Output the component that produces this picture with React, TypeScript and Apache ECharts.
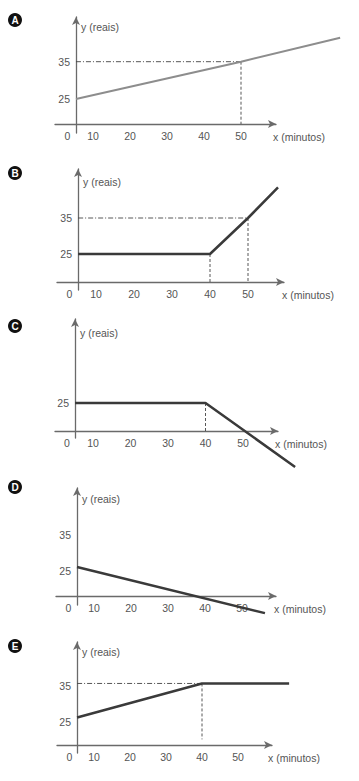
import React, { useEffect, useRef } from "react";
import * as echarts from "echarts";

// ---- data ----
const X_TICKS = [0, 10, 20, 30, 40, 50];
const Y_TICKS_TWO = [25, 35];
const Y_TICKS_ONE = [25];
const LETTERS = ["A", "B", "C", "D", "E"];
const X_NAME = "x (minutos)";
const Y_NAME = "y (reais)";

const LINE_A = [[5.4, 25], [50, 35], [76.8, 41.4]];
const LINE_B = [[5.3, 25], [40, 25], [50, 35], [57.9, 43.5]];
const LINE_C = [[5.2, 25], [40, 25], [63.9, 7.7]];
const LINE_D = [[5.4, 26.1], [56.2, 13.3]];
const LINE_E = [[5.3, 25], [40, 35], [64.2, 35]];

const GUIDE_H_A = [[5.4, 35], [50, 35]];
const GUIDE_V_A = [[50, 35], [50, 18.3]];
const GUIDE_H_B = [[5.3, 35], [50, 35]];
const GUIDE_V_B1 = [[40, 25], [40, 17.2]];
const GUIDE_V_B2 = [[50, 35], [50, 17.2]];
const GUIDE_V_C = [[40, 25], [40, 17.4]];
const GUIDE_H_E = [[5.3, 35], [40, 35]];
const GUIDE_V_E = [[40, 35], [40, 18.6]];

// ---- layout (pixels) ----
const PANELS = [
  { x0: 56, xu: 3.7, y25: 99, yu: 3.73, yAxisX: 76, xAxisY: 124, left: 55, tipR: 280, tipT: 13, bottom: 133, badge: [15, 20], yNameGap: -10, xNameGap: -3, yTicks: Y_TICKS_TWO, line: LINE_A, lineColor: "#8d8d8d", lineWidth: 2, hGuides: [GUIDE_H_A], vGuides: [GUIDE_V_A] },
  { x0: 58, xu: 3.8, y25: 254, yu: 3.6, yAxisX: 78, xAxisY: 282, left: 57, tipR: 288, tipT: 165, bottom: 290, badge: [15, 173], yNameGap: -13, xNameGap: -2, yTicks: Y_TICKS_TWO, line: LINE_B, lineColor: "#3a3a3a", lineWidth: 2.5, hGuides: [GUIDE_H_B], vGuides: [GUIDE_V_B1, GUIDE_V_B2] },
  { x0: 55.5, xu: 3.75, y25: 403, yu: 3.7, yAxisX: 75, xAxisY: 431, left: 55, tipR: 282, tipT: 315, bottom: 438, badge: [15, 326], yNameGap: -14, xNameGap: -3, yTicks: Y_TICKS_ONE, line: LINE_C, lineColor: "#3a3a3a", lineWidth: 2.5, hGuides: [], vGuides: [GUIDE_V_C] },
  { x0: 57, xu: 3.7, y25: 571, yu: 3.6, yAxisX: 77, xAxisY: 596, left: 56, tipR: 280, tipT: 484, bottom: 605, badge: [15, 487], yNameGap: -11, xNameGap: -2, yTicks: Y_TICKS_TWO, line: LINE_D, lineColor: "#3a3a3a", lineWidth: 2.5, hGuides: [], vGuides: [] },
  { x0: 58, xu: 3.6, y25: 722, yu: 3.6, yAxisX: 77, xAxisY: 745, left: 57, tipR: 276, tipT: 638, bottom: 753, badge: [15, 646], yNameGap: -10, xNameGap: -4, yTicks: Y_TICKS_TWO, line: LINE_E, lineColor: "#3a3a3a", lineWidth: 2.5, hGuides: [GUIDE_H_E], vGuides: [GUIDE_V_E] },
];

const FONT = "Liberation Sans";
const TEXT_COLOR = "#555";
const AXIS_COLOR = "#6a6a6a";
const ARROW_HALF = 4;
const DATA_RIGHT = 354;
const DATA_EXTRA_BOTTOM = 36;

function buildOption() {
  const grid: any[] = [];
  const xAxis: any[] = [];
  const yAxis: any[] = [];
  const series: any[] = [];
  const graphic: any[] = [];
  const n = PANELS.length;

  // visible axes grids
  PANELS.forEach((p, i) => {
    const rightEdge = p.tipR - ARROW_HALF;
    const topEdge = p.tipT + ARROW_HALF;
    grid.push({ left: p.left, top: topEdge, width: rightEdge - p.left, height: p.bottom - topEdge });
    xAxis.push({
      type: "value",
      gridIndex: i,
      min: (p.left - p.x0) / p.xu,
      max: (rightEdge - p.x0) / p.xu,
      offset: -(p.bottom - p.xAxisY),
      name: X_NAME,
      nameLocation: "end",
      nameGap: p.xNameGap,
      nameTextStyle: { color: TEXT_COLOR, fontFamily: FONT, fontSize: 10.5, align: "left", verticalAlign: "top", padding: [7, 0, 0, 0] },
      axisLine: { show: true, onZero: false, symbol: ["none", "arrow"], symbolSize: [6, 8], lineStyle: { color: AXIS_COLOR, width: 1.3 } },
      axisTick: { show: false },
      splitLine: { show: false },
      axisLabel: {
        customValues: X_TICKS,
        margin: 6,
        color: TEXT_COLOR,
        fontFamily: FONT,
        fontSize: 10.5,
        formatter: (v: number) => (v === 0 ? "{z|0}" : String(v)),
        rich: { z: { padding: [0, 0, 0, 23], color: TEXT_COLOR, fontFamily: FONT, fontSize: 10.5 } },
      },
    });
    yAxis.push({
      type: "value",
      gridIndex: i,
      min: 25 - (p.bottom - p.y25) / p.yu,
      max: 25 + (p.y25 - topEdge) / p.yu,
      offset: -(p.yAxisX - p.left),
      name: Y_NAME,
      nameLocation: "end",
      nameGap: p.yNameGap,
      nameTextStyle: { color: TEXT_COLOR, fontFamily: FONT, fontSize: 10.5, align: "left", verticalAlign: "middle", padding: [0, 0, 0, 5] },
      axisLine: { show: true, onZero: false, symbol: ["none", "arrow"], symbolSize: [6, 8], lineStyle: { color: AXIS_COLOR, width: 1.3 } },
      axisTick: { show: false },
      splitLine: { show: false },
      axisLabel: { customValues: p.yTicks, margin: 6, color: TEXT_COLOR, fontFamily: FONT, fontSize: 10.5 },
    });

    graphic.push({
      type: "group",
      children: [
        { type: "circle", shape: { cx: p.badge[0], cy: p.badge[1], r: 7 }, style: { fill: "#111" } },
        { type: "text", x: p.badge[0], y: p.badge[1] + 0.5, style: { text: LETTERS[i], fill: "#fff", font: `bold 10px ${FONT}`, align: "center", verticalAlign: "middle" } },
      ],
    });
  });

  // wider data grids with the same scale (hidden axes), so lines may run past the arrows
  PANELS.forEach((p, i) => {
    const gi = n + i;
    const dataBottom = p.bottom + DATA_EXTRA_BOTTOM;
    grid.push({ left: p.left, top: p.tipT, width: DATA_RIGHT - p.left, height: dataBottom - p.tipT });
    xAxis.push({ type: "value", gridIndex: gi, show: false, min: (p.left - p.x0) / p.xu, max: (DATA_RIGHT - p.x0) / p.xu, splitLine: { show: false } });
    yAxis.push({ type: "value", gridIndex: gi, show: false, min: 25 - (dataBottom - p.y25) / p.yu, max: 25 + (p.y25 - p.tipT) / p.yu, splitLine: { show: false } });

    p.hGuides.forEach((g) => {
      series.push({ type: "line", xAxisIndex: gi, yAxisIndex: gi, data: g, symbol: "none", silent: true, lineStyle: { color: "#444", width: 0.9, type: [5, 2, 1, 2] } });
    });
    p.vGuides.forEach((g) => {
      series.push({ type: "line", xAxisIndex: gi, yAxisIndex: gi, data: g, symbol: "none", silent: true, lineStyle: { color: "#444", width: 0.9, type: [3, 2] } });
    });
    series.push({ type: "line", xAxisIndex: gi, yAxisIndex: gi, data: p.line, symbol: "none", z: 5, lineStyle: { color: p.lineColor, width: p.lineWidth } });
  });

  return { animation: false, backgroundColor: "#fff", grid, xAxis, yAxis, series, graphic };
}

export default function App() {
  const ref = useRef<HTMLDivElement>(null);
  useEffect(() => {
    document.body.style.margin = "0";
    if (!ref.current) return;
    const chart = echarts.init(ref.current, undefined, { renderer: "svg" });
    chart.setOption(buildOption() as any);
    return () => chart.dispose();
  }, []);
  return <div ref={ref} style={{ width: 359, height: 781, position: "absolute", left: 0, top: 0 }} />;
}
